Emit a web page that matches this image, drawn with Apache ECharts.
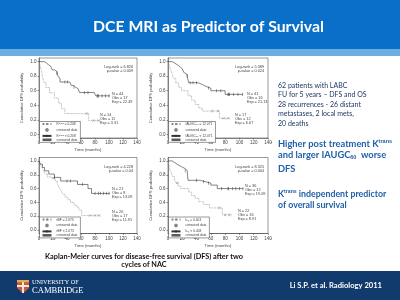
<!DOCTYPE html>
<html>
<head>
<meta charset="utf-8">
<script src="https://cdn.jsdelivr.net/npm/echarts@6/dist/echarts.min.js"></script>
<style>
html,body{margin:0;padding:0;background:#fff;}
#main{width:400px;height:300px;}
</style>
</head>
<body>
<div id="main"></div>
<script>
// Kaplan-Meier curves, [month, survival]
var ktransHi = [[0,1],[2,0.929],[4,0.857],[5,0.786],[7,0.714],[10,0.643],[15,0.571],[22,0.5],[28,0.429],[32,0.357],[37,0.286],[71,0.19],[87,0.19]];
var ktransHiCens = [[68,0.286],[78,0.19],[85,0.19]];
var ktransLo = [[0,1],[8,0.977],[11,0.955],[14,0.932],[17,0.909],[19,0.886],[22,0.864],[26,0.841],[27,0.795],[28,0.773],[30,0.72],[44,0.697],[46,0.674],[49,0.65],[52,0.627],[56,0.6],[58,0.575],[79,0.549],[81,0.53],[101,0.53]];
var ktransLoCens = [[25,0.841],[37,0.72],[41,0.72],[50,0.65],[65,0.575],[70,0.575],[83,0.53],[84,0.53],[85,0.53],[90,0.53],[95,0.53],[100,0.53]];

var iaugcHi = [[0,1],[2,0.941],[4,0.882],[6,0.824],[8,0.765],[11,0.706],[15,0.647],[19,0.6],[28,0.53],[33,0.47],[38,0.41],[43,0.36],[48,0.32],[72,0.22],[87,0.22]];
var iaugcHiCens = [[62,0.32],[70,0.32],[78,0.22],[84,0.22]];
var iaugcLo = [[0,1],[6,0.976],[10,0.951],[14,0.927],[17,0.902],[20,0.878],[22,0.853],[24,0.829],[26,0.805],[28,0.75],[29,0.71],[42,0.686],[48,0.66],[53,0.635],[60,0.6],[80,0.55],[105,0.55]];
var iaugcLoCens = [[27,0.805],[31,0.71],[35,0.71],[40,0.71],[57,0.635],[68,0.6],[74,0.6],[84,0.55],[85,0.55],[86,0.55],[92,0.55],[98,0.55],[104,0.55]];

var rbfHi = [[0,1],[2,0.96],[3,0.92],[5,0.88],[7,0.85],[9,0.81],[12,0.77],[15,0.75],[23,0.71],[26,0.67],[28,0.63],[30,0.6],[32,0.56],[34,0.52],[37,0.48],[41,0.44],[45,0.4],[50,0.36],[54,0.33],[57,0.29],[61,0.21],[87,0.21]];
var rbfHiCens = [[20,0.75],[73,0.21],[80,0.21],[86,0.21]];
var rbfLo = [[0,1],[2,0.952],[5,0.905],[8,0.857],[14,0.81],[22,0.762],[31,0.71],[55,0.66],[70,0.6],[75,0.53],[101,0.53]];
var rbfLoCens = [[22,0.762],[40,0.71],[45,0.71],[62,0.66],[80,0.53],[85,0.53],[88,0.53],[92,0.53],[96,0.53],[100,0.53]];

var kepHi = [[0,1],[1,0.955],[2,0.909],[3,0.864],[5,0.818],[6,0.773],[9,0.727],[11,0.682],[14,0.636],[18,0.6],[29,0.55],[33,0.5],[38,0.46],[43,0.41],[50,0.37],[58,0.32],[76,0.22],[89,0.22]];
var kepHiCens = [[13,0.682],[72,0.32],[80,0.22],[86,0.22]];
var kepLo = [[0,1],[6,0.972],[10,0.944],[14,0.917],[19,0.889],[24,0.861],[27,0.83],[28,0.72],[45,0.7],[52,0.68],[60,0.65],[69,0.6],[105,0.6]];
var kepLoCens = [[24,0.861],[40,0.72],[50,0.7],[57,0.68],[75,0.6],[84,0.6],[85,0.6],[90,0.6],[95,0.6],[100,0.6],[105,0.6]];

var yTicks = [0, 0.2, 0.4, 0.6, 0.8, 1.0];
var legendHi = ['K\u1d57\u02b3\u1d43\u207f\u02e2 \u2265 0.208', 'IAUGC\u2086\u2080 \u2265 12.071', 'rBF \u2265 2.073', 'k\u2091\u209a \u2265 0.403'];
var legendLo = ['K\u1d57\u02b3\u1d43\u207f\u02e2 < 0.208', 'IAUGC\u2086\u2080 < 12.071', 'rBF < 2.073', 'k\u2091\u209a < 0.403'];
var logRank = ['6.826', '5.089', '4.228', '8.325'];
var pValue = ['0.009', '0.024', '0.04', '0.004'];
var statsLo = [['44','17','22.49'], ['41','16','21.13'], ['21','8','13.09'], ['36','12','19.09']];
var statsHi = [['14','11','3.31'], ['17','12','6.67'], ['26','17','11.91'], ['22','16','8.91']];

var bulletsA = ['62 patients with LABC', 'FU for 5 years \u2013 DFS and OS', '28 recurrences - 26 distant', 'metastases, 2 local mets,', '20 deaths'];

var panels = [
    {grid: {left: 39, top: 58, width: 98, height: 80}, hi: ktransHi, hiC: ktransHiCens, lo: ktransLo, loC: ktransLoCens, loTxt: [73, 34], hiTxt: [61, 55]},
    {grid: {left: 168, top: 58, width: 100, height: 80}, hi: iaugcHi, hiC: iaugcHiCens, lo: iaugcLo, loC: iaugcLoCens, loTxt: [79, 34], hiTxt: [67, 55]},
    {grid: {left: 39, top: 157.5, width: 98, height: 76}, hi: rbfHi, hiC: rbfHiCens, lo: rbfLo, loC: rbfLoCens, loTxt: [73, 30], hiTxt: [73, 53]},
    {grid: {left: 168, top: 157.5, width: 100, height: 76}, hi: kepHi, hiC: kepHiCens, lo: kepLo, loC: kepLoCens, loTxt: [77, 27], hiTxt: [70, 52]}
];

var crossPath = 'path://M0,0L10,10M10,0L0,10';
var small = 'Liberation Sans';
var labelMap = {};
var grids = [], xAxes = [], yAxes = [], series = [], legends = [], graphics = [];

panels.forEach(function (p, i) {
    grids.push({left: p.grid.left, top: p.grid.top, width: p.grid.width, height: p.grid.height,
        show: true, borderColor: '#333', borderWidth: 0.5, backgroundColor: '#fff'});
    xAxes.push({
        gridIndex: i, type: 'value', min: 0, max: 140, interval: 20,
        name: 'Time (months)', nameLocation: 'middle', nameGap: 10,
        nameTextStyle: {fontSize: 4.2, color: '#444', fontFamily: small},
        axisLine: {onZero: false, lineStyle: {color: '#333', width: 0.5}},
        axisTick: {length: 1.5, lineStyle: {width: 0.5}},
        axisLabel: {fontSize: 4.5, color: '#444', margin: 2.5, fontFamily: small},
        splitLine: {show: false}
    });
    yAxes.push({
        gridIndex: i, type: 'value', min: -0.05, max: 1.05,
        name: 'Cumulative DFS probability', nameLocation: 'middle', nameGap: 15, nameRotate: 90,
        nameTextStyle: {fontSize: 4.2, color: '#444', fontFamily: small},
        axisLine: {onZero: false, lineStyle: {color: '#333', width: 0.5}},
        axisTick: {length: 1.5, lineStyle: {width: 0.5}, customValues: yTicks},
        axisLabel: {fontSize: 4.5, color: '#444', margin: 2.5, fontFamily: small, customValues: yTicks,
            formatter: function (v) { return v.toFixed(1); }},
        splitLine: {show: false}
    });
    var base = {xAxisIndex: i, yAxisIndex: i, silent: true};
    series.push(Object.assign({name: 'd' + i, type: 'line', step: 'end', data: p.hi, symbol: 'none',
        lineStyle: {color: '#888', width: 0.7, type: 'dotted'}, itemStyle: {color: '#888'}}, base));
    series.push(Object.assign({name: 'dc' + i, type: 'scatter', data: p.hiC, symbol: crossPath, symbolSize: 2.4,
        itemStyle: {color: 'none', borderColor: '#666', borderWidth: 0.5}}, base));
    series.push(Object.assign({name: 's' + i, type: 'line', step: 'end', data: p.lo, symbol: 'none',
        lineStyle: {color: '#333', width: 0.6}, itemStyle: {color: '#333'}}, base));
    series.push(Object.assign({name: 'sc' + i, type: 'scatter', data: p.loC, symbol: 'rect', symbolSize: [0.6, 3.2],
        itemStyle: {color: '#333'}}, base));
    labelMap['d' + i] = legendHi[i];
    labelMap['dc' + i] = 'censored data';
    labelMap['s' + i] = legendLo[i];
    labelMap['sc' + i] = 'censored data';
    legends.push({
        orient: 'vertical', left: p.grid.left + 0.5, top: p.grid.top + p.grid.height - 16.5,
        data: ['d' + i, 'dc' + i, 's' + i, 'sc' + i], selectedMode: false,
        itemWidth: 9, itemHeight: 2.6, itemGap: 0.3, padding: [0.8, 3, 0.8, 2],
        borderColor: '#333', borderWidth: 0.5, backgroundColor: '#fff',
        textStyle: {fontSize: 3.3, lineHeight: 3.6, color: '#444', fontFamily: small},
        formatter: function (n) { return labelMap[n]; }
    });
    var gr = p.grid.left + p.grid.width;
    graphics.push({type: 'text', x: gr - 4, y: p.grid.top + 7, style: {
        text: 'Log-rank = ' + logRank[i] + '\np-value = ' + pValue[i], align: 'right', verticalAlign: 'top',
        fontSize: 3.8, lineHeight: 4.2, fill: '#444', fontFamily: small}});
    graphics.push({type: 'text', x: p.grid.left + p.loTxt[0], y: p.grid.top + p.loTxt[1], style: {
        text: 'N = ' + statsLo[i][0] + '\nObs = ' + statsLo[i][1] + '\nExp = ' + statsLo[i][2],
        verticalAlign: 'top', fontSize: 3.8, lineHeight: 3.8, fill: '#444', fontFamily: small}});
    graphics.push({type: 'text', x: p.grid.left + p.hiTxt[0], y: p.grid.top + p.hiTxt[1], style: {
        text: 'N = ' + statsHi[i][0] + '\nObs = ' + statsHi[i][1] + '\nExp = ' + statsHi[i][2],
        verticalAlign: 'top', fontSize: 3.8, lineHeight: 3.8, fill: '#444', fontFamily: small}});
});

// slide decoration
graphics.unshift(
    {type: 'rect', shape: {x: 0, y: 0, width: 400, height: 49}, style: {fill: '#0a6fc8'}, z: -10},
    {type: 'rect', shape: {x: 0, y: 49, width: 400, height: 7}, style: {fill: '#6aaee2'}, z: -10},
    {type: 'rect', shape: {x: 0, y: 271, width: 400, height: 29}, style: {fill: '#103b6c'}, z: -10}
);
graphics.push(
    {type: 'text', x: 208.5, y: 27, style: {text: 'DCE MRI as Predictor of Survival', align: 'center', verticalAlign: 'middle',
        fontSize: 15.8, fontWeight: 'bold', fill: '#fff', fontFamily: 'Lato'}},
    {type: 'text', x: 144, y: 257, style: {text: 'Kaplan-Meier curves for disease-free survival (DFS) after two', align: 'center',
        verticalAlign: 'middle', fontSize: 7.3, fontWeight: 'bold', fill: '#111', fontFamily: 'Lato'}},
    {type: 'text', x: 144, y: 264.5, style: {text: 'cycles of NAC', align: 'center',
        verticalAlign: 'middle', fontSize: 7.3, fontWeight: 'bold', fill: '#111', fontFamily: 'Lato'}},
    {type: 'text', x: 278, y: 80.5, style: {text: bulletsA.join('\n'), verticalAlign: 'top', fontSize: 7, lineHeight: 9.6,
        fill: '#1f3864', fontFamily: 'Lato'}},
    {type: 'text', x: 278, y: 144, style: {text: 'Higher post treatment K{s|trans}', verticalAlign: 'middle',
        fontSize: 9.3, fontWeight: 'bold', fill: '#2160aa', fontFamily: 'Lato',
        rich: {s: {fontSize: 5.5, fontWeight: 'bold', fill: '#2160aa', verticalAlign: 'top', padding: [0, 0, 5, 0]}}}},
    {type: 'text', x: 278, y: 155, style: {text: 'and larger IAUGC{b|60}  worse', verticalAlign: 'middle',
        fontSize: 9.3, fontWeight: 'bold', fill: '#2160aa', fontFamily: 'Lato',
        rich: {b: {fontSize: 5.5, fontWeight: 'bold', fill: '#2160aa', padding: [5, 0, 0, 0]}}}},
    {type: 'text', x: 278, y: 169, style: {text: 'DFS', verticalAlign: 'middle',
        fontSize: 9.3, fontWeight: 'bold', fill: '#2160aa', fontFamily: 'Lato'}},
    {type: 'text', x: 278, y: 194, style: {text: 'K{s|trans} independent predictor', verticalAlign: 'middle',
        fontSize: 8.8, fontWeight: 'bold', fill: '#2160aa', fontFamily: 'Lato',
        rich: {s: {fontSize: 5.2, fontWeight: 'bold', fill: '#2160aa', padding: [0, 0, 5, 0]}}}},
    {type: 'text', x: 278, y: 205, style: {text: 'of overall survival', verticalAlign: 'middle',
        fontSize: 8.8, fontWeight: 'bold', fill: '#2160aa', fontFamily: 'Lato'}},
    {type: 'circle', shape: {cx: 271.5, cy: 142.5, r: 0.8}, style: {fill: '#999'}},
    {type: 'circle', shape: {cx: 271, cy: 239, r: 0.8}, style: {fill: '#bbb'}},
    // Cambridge shield
    {type: 'polygon', shape: {points: [[17, 280], [29, 280], [29, 288], [23, 293.5], [17, 288]]}, style: {fill: '#c9573c'}},
    {type: 'rect', shape: {x: 22, y: 280, width: 2, height: 13}, style: {fill: '#f3e9d8'}},
    {type: 'rect', shape: {x: 17, y: 285, width: 12, height: 2}, style: {fill: '#f3e9d8'}},
    {type: 'rect', shape: {x: 17, y: 280, width: 12, height: 2.2}, style: {fill: '#e2b04a'}},
    {type: 'text', x: 32, y: 282.5, style: {text: 'UNIVERSITY OF', verticalAlign: 'middle', fontSize: 6.2,
        fill: '#fff', fontFamily: 'Liberation Serif'}},
    {type: 'text', x: 32, y: 290.5, style: {text: 'CAMBRIDGE', verticalAlign: 'middle', fontSize: 8.6,
        fill: '#fff', fontFamily: 'Liberation Serif'}},
    {type: 'text', x: 382, y: 286, style: {text: 'Li S.P. et al. Radiology 2011', align: 'right', verticalAlign: 'middle',
        fontSize: 7.6, fontWeight: 'bold', fill: '#fff', fontFamily: 'Lato'}}
);

var chart = echarts.init(document.getElementById('main'));
chart.setOption({
    backgroundColor: '#fff',
    animation: false,
    grid: grids,
    xAxis: xAxes,
    yAxis: yAxes,
    legend: legends,
    series: series,
    graphic: graphics
});
</script>
</body>
</html>
